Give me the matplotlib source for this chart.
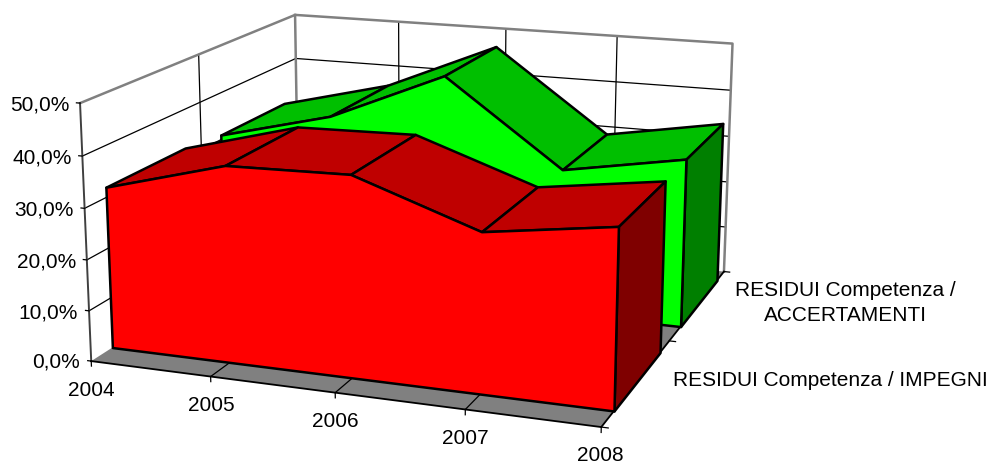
import matplotlib
matplotlib.use("Agg")
import matplotlib.pyplot as plt
from mpl_toolkits.mplot3d.art3d import Poly3DCollection

plt.rcParams["font.family"] = ["Liberation Sans", "DejaVu Sans"]

W, H = 993, 464

years = ["2004", "2005", "2006", "2007", "2008"]
series_labels = ["RESIDUI Competenza / IMPEGNI", "RESIDUI Competenza /\nACCERTAMENTI"]
impegni = [32.0, 38.4, 38.9, 30.6, 34.0]
accertamenti = [31.0, 37.0, 47.3, 30.0, 34.3]
z_ticks = [0, 10, 20, 30, 40, 50]
z_labels = ["0,0%", "10,0%", "20,0%", "30,0%", "40,0%", "50,0%"]

fig = plt.figure(figsize=(W / 100, H / 100), dpi=100)
side = 724
ax = fig.add_axes([56.5 / W, -103 / H, side / W, side / H], projection="3d",
                  computed_zorder=False)
ax.set_axis_off()
ax.patch.set_visible(False)
ax._dist = 5.4
ax.set_proj_type("persp", focal_length=0.54)
ax.view_init(elev=14.9, azim=-69.9)
ax.set_box_aspect((1.22, 1.2, 0.61))
ax.set_xlim(0, 4, view_margin=0)
ax.set_ylim(0, 1, view_margin=0)
ax.set_zlim(0, 50, view_margin=0)

n = len(years)
xs = list(range(n))


def line(xv, yv, zv, color="black", lw=0.9, z=2):
    ax.plot(xv, yv, zv, color=color, lw=lw, zorder=z, solid_capstyle="projecting")


def face(verts, color, z):
    ax.add_collection3d(Poly3DCollection([verts], facecolors=color, edgecolors="black",
                                         linewidths=1.8, zorder=z, joinstyle="round"))


# floor
ax.add_collection3d(Poly3DCollection([[(0, 0, 0), (4, 0, 0), (4, 1, 0), (0, 1, 0)]],
                                     facecolors="#808080", edgecolors="none", zorder=1))
# gridlines on the two walls
for t in z_ticks[1:-1]:
    line([0, 0, 4], [0, 1, 1], [t, t, t])
for i in xs[1:-1]:
    line([i, i], [1, 1], [0, 50])
    line([i, i], [0, 1], [0, 0])
line([0, 0], [0.5, 0.5], [0, 50])
# wall frame
line([0, 0, 4, 4], [0, 1, 1, 1], [50, 50, 50, 0], color="#808080", lw=1.8)
line([0, 0], [1, 1], [0, 50], color="#808080", lw=1.8)
line([0, 0], [0, 0], [0, 50], color="#404040", lw=1.4)
line([0, 4, 4], [0, 0, 1], [0, 0, 0], lw=1.3)
# ticks
for t in z_ticks:
    line([0, -0.03], [0, 0], [t, t])
for i in xs:
    line([i, i], [0, 0], [0, -1.0])
for d in (0, 0.5, 1):
    line([4, 4.05], [d, d], [0, 0])


def area(values, y0, y1, front, top, end, z):
    # tops are painted left to right, the camera sits on the right side
    for i in range(n - 1):
        face([(i, y0, values[i]), (i + 1, y0, values[i + 1]),
              (i + 1, y1, values[i + 1]), (i, y1, values[i])], top, z + i * 0.01)
    face([(4, y0, 0), (4, y1, 0), (4, y1, values[-1]), (4, y0, values[-1])], end, z + 0.1)
    outline = [(0, y0, 0)] + [(i, y0, values[i]) for i in xs] + [(4, y0, 0)]
    face(outline, front, z + 0.2)


area(accertamenti, 0.595, 0.93, "#00ff00", "#00bf00", "#007f00", 3)
area(impegni, 0.085, 0.425, "#ff0000", "#bf0000", "#7f0000", 4)


def label(px, py, s, ha="center"):
    fig.text(px / W, 1 - py / H, s, ha=ha, va="center", fontsize=15, color="black",
             linespacing=1.45)


for s, px, py in zip(z_labels, [80, 78, 76, 74, 72, 70], [362, 313, 262, 210, 158, 105]):
    label(px, py, s, ha="right")
for s, px, py in zip(years, [91, 211, 335, 465, 600], [391, 406, 422, 439, 456]):
    label(px, py, s)
label(830, 381, series_labels[0])
label(845, 303, series_labels[1])

fig.savefig("out.png", dpi=100)
